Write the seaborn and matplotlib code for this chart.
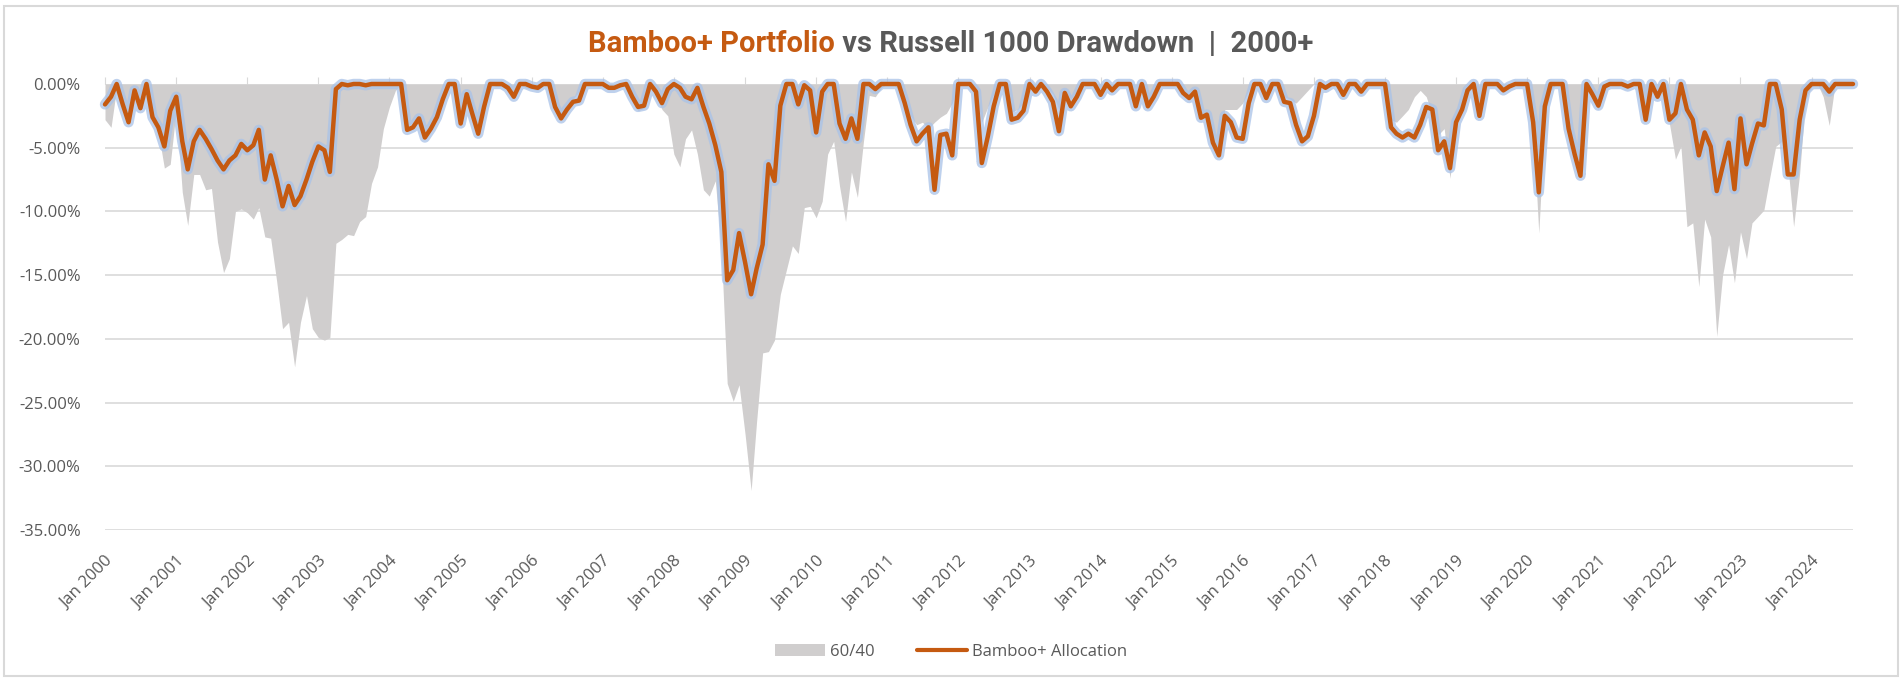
import numpy as np
import pandas as pd
import seaborn as sns
import matplotlib.pyplot as plt
import matplotlib.dates as mdates
import matplotlib.patheffects as pe
from matplotlib.patches import Patch, Rectangle
from matplotlib.lines import Line2D
from matplotlib.ticker import FuncFormatter

# monthly drawdowns in %, Jan 2000 .. Aug 2024 (one row per year)
bamboo = [
    -1.6, -1.0, 0, -1.6, -3.0, -0.5, -1.9, 0, -2.6, -3.4, -4.9, -2.1,
    -1.0, -4.5, -6.7, -4.5, -3.6, -4.3, -5.1, -6.0, -6.7, -6.0, -5.6, -4.7,
    -5.2, -4.8, -3.6, -7.5, -5.6, -7.5, -9.6, -8.0, -9.5, -8.8, -7.5, -6.1,
    -4.9, -5.2, -6.9, -0.4, 0, -0.1, 0, 0, -0.1, 0, 0, 0,
    0, 0, 0, -3.6, -3.4, -2.7, -4.2, -3.5, -2.6, -1.2, 0, 0,
    -3.1, -0.8, -2.3, -3.9, -1.8, 0, 0, 0, -0.3, -1.0, 0, 0,
    -0.2, -0.3, 0, 0, -1.8, -2.7, -2.0, -1.4, -1.3, 0, 0, 0,
    0, -0.3, -0.3, -0.1, 0, -1.0, -1.8, -1.7, 0, -0.6, -1.5, -0.4,
    0, -0.3, -1.0, -1.2, -0.3, -1.8, -3.1, -4.8, -6.9, -15.4, -14.6, -11.7,
    -14.0, -16.5, -14.5, -12.6, -6.3, -7.6, -1.7, 0, 0, -1.6, -0.1, -0.5,
    -3.8, -0.6, 0, 0, -3.1, -4.3, -2.7, -4.3, 0, 0, -0.4, 0,
    0, 0, 0, -1.5, -3.2, -4.5, -3.9, -3.4, -8.3, -4.0, -3.9, -5.6,
    0, 0, 0, -0.6, -6.2, -4.1, -1.75, 0, 0, -2.8, -2.65, -2.1,
    0, -0.6, 0, -0.6, -1.4, -3.7, -0.7, -1.75, -1.0, 0, 0, 0,
    -0.85, 0, -0.5, 0, 0, 0, -1.75, 0, -1.75, -1.0, 0, 0,
    0, 0, -0.7, -1.1, -0.6, -2.65, -2.4, -4.6, -5.6, -2.5, -3.0, -4.2,
    -4.3, -1.5, 0, 0, -1.1, 0, 0, -1.4, -1.5, -3.2, -4.5, -4.1,
    -2.5, 0, -0.3, 0, 0, -0.85, 0, 0, -0.6, 0, 0, 0,
    0, -3.4, -3.9, -4.2, -3.9, -4.2, -3.2, -1.8, -2.0, -5.2, -4.5, -6.6,
    -3.0, -2.0, -0.5, 0, -2.5, 0, 0, 0, -0.5, -0.2, 0, 0,
    0, -3.0, -8.5, -1.75, 0, 0, 0, -3.5, -5.5, -7.2, 0, -0.8,
    -1.7, -0.2, 0, 0, 0, -0.2, 0, 0, -2.8, 0, -1.0, 0,
    -2.8, -2.3, 0, -2.0, -2.8, -5.6, -3.8, -4.9, -8.4, -6.5, -4.6, -8.25,
    -2.7, -6.3, -4.7, -3.1, -3.25, 0, 0, -2.0, -7.1, -7.1, -2.8, -0.5,
    0, 0, 0, -0.6, 0, 0, 0, 0,
]

sixty_forty = [
    -2.8, -3.4, -0.3, -1.8, -3.2, -0.8, -2.0, -0.2, -2.8, -3.8, -6.6, -6.3,
    -2.0, -8.5, -11.1, -7.1, -7.1, -8.3, -8.2, -12.4, -14.8, -13.7, -10.0, -9.8,
    -10.1, -10.6, -9.7, -12.0, -12.1, -15.5, -19.2, -18.7, -22.2, -18.7, -16.6, -19.2,
    -19.9, -20.1, -19.9, -12.5, -12.2, -11.8, -11.9, -10.8, -10.4, -7.8, -6.5, -3.5,
    -1.8, -0.5, 0, -3.4, -3.0, -2.4, -4.0, -3.2, -2.3, -1.0, 0, -0.5,
    -2.8, -0.5, -2.1, -3.7, -1.5, 0, -0.2, -0.2, -0.5, -1.2, 0, -0.3,
    -0.4, -0.5, 0, -0.3, -1.6, -2.5, -1.8, -1.2, -0.6, 0, 0, 0,
    0, -0.4, -0.2, 0, -0.3, -1.4, -2.1, -1.9, 0, -0.8, -2.0, -2.5,
    -5.5, -6.5, -4.3, -3.6, -5.5, -8.3, -8.8, -7.6, -13.0, -23.5, -24.9, -23.6,
    -27.5, -31.9, -26.5, -21.1, -21.0, -20.1, -16.5, -14.6, -12.7, -13.3, -9.7, -9.6,
    -10.5, -9.2, -5.5, -4.5, -8.0, -10.8, -6.9, -8.9, -4.5, -0.9, -1.0, -0.3,
    0, 0, -0.5, -1.5, -2.5, -3.2, -3.0, -3.5, -3.0, -2.6, -2.3, -1.5,
    0, 0, 0, -0.8, -3.0, -1.8, -0.8, 0, -1.0, -2.2, -2.0, -1.5,
    0, -0.5, 0, -0.3, -0.8, -2.0, -0.5, -1.2, -0.6, 0, 0, 0,
    -0.8, 0, -0.5, 0, 0, 0, -1.5, 0, -1.5, -0.8, 0, 0,
    0, 0, -0.5, -1.0, -0.6, -2.4, -2.2, -4.3, -5.2, -2.0, -2.0, -2.0,
    -1.5, -0.5, 0, 0, -0.8, 0, -0.3, -1.0, -1.2, -1.5, -1.0, -0.5,
    0, 0, 0, 0, 0, -0.6, 0, 0, -0.4, 0, 0, 0,
    0, -2.8, -3.0, -2.5, -2.0, -1.0, -0.5, -1.0, -2.5, -4.0, -3.5, -7.4,
    -3.2, -2.2, -0.8, 0, -2.2, 0, 0, 0, -0.4, 0, 0, 0,
    0, -3.5, -11.7, -2.5, -0.5, 0, 0, -3.0, -5.0, -6.5, -0.5, -1.0,
    -2.0, -0.5, 0, 0, 0, 0, 0, 0, -2.5, 0, -1.0, 0,
    -3.1, -5.9, -4.9, -11.2, -10.9, -15.9, -10.6, -12.0, -19.8, -15.0, -12.6, -15.6,
    -11.6, -13.7, -10.9, -10.4, -9.9, -7.3, -4.9, -4.5, -6.3, -11.2, -7.0, -1.2,
    -0.2, 0, -1.0, -3.25, 0, 0, 0, 0,
]

dates = pd.date_range('2000-01-01', periods=len(bamboo), freq='MS')
df = pd.DataFrame({'date': dates,
                   'Bamboo+ Allocation': np.array(bamboo) / 100,
                   '60/40': np.array(sixty_forty) / 100})

ORANGE = '#C55A11'
GREY_FILL = '#D0CECE'
TXT = '#595959'
GRID = '#D9D9D9'

sns.set_style('white')
plt.rcParams['font.family'] = ['Open Sans', 'DejaVu Sans']

fig = plt.figure(figsize=(19.02, 6.79), dpi=100)
ax = fig.add_axes([105 / 1902, 1 - 530 / 679, (1853 - 105) / 1902, (530 - 84) / 679])

# 60/40 as grey area
ax.fill_between(df['date'], df['60/40'], 0, color=GREY_FILL, lw=0, zorder=2)

# Bamboo+ line with light blue glow
sns.lineplot(data=df, x='date', y='Bamboo+ Allocation', ax=ax, color=ORANGE,
             lw=3.2, zorder=4, clip_on=False,
             path_effects=[pe.Stroke(linewidth=7.5, foreground='#A9C2E8', alpha=0.75), pe.Normal()])


def pct(v, p):
    v = round(v * 100, 2)
    if v == 0:
        v = 0.0
    return '%.2f%%' % abs(v) if v == 0 else '%.2f%%' % v


ax.set_ylim(-0.35, 0)
ax.set_xlim(dates[0], dates[-1])
ax.set_yticks(np.arange(-0.35, 0.001, 0.05))
ax.yaxis.set_major_formatter(FuncFormatter(pct))
ax.grid(axis='y', color=GRID, lw=1.2, zorder=0)
ax.grid(axis='x', visible=False)
for s in ax.spines.values():
    s.set_visible(False)

ax.xaxis.set_major_locator(mdates.YearLocator())
ax.xaxis.set_major_formatter(mdates.DateFormatter('%b %Y'))
ax.tick_params(axis='x', bottom=False, top=True, labelbottom=True, labeltop=False,
               length=5, color=GRID, direction='out', labelsize=12, labelcolor=TXT, pad=12)
ax.tick_params(axis='y', left=False, labelsize=12, labelcolor=TXT, pad=14)
for lbl in ax.get_xticklabels():
    lbl.set_rotation(45)
    lbl.set_ha('right')
    lbl.set_va('top')
    lbl.set_rotation_mode('anchor')
ax.set_xlabel('')
ax.set_ylabel('')

# legend at the bottom
handles = [Patch(facecolor=GREY_FILL, edgecolor='none', label='60/40'),
           Line2D([0], [0], color=ORANGE, lw=3, label='Bamboo+ Allocation')]
fig.legend(handles=handles, loc='center', bbox_to_anchor=(0.5, 1 - 652 / 679), ncol=2,
           frameon=False, fontsize=12, labelcolor=TXT, handlelength=3.0,
           columnspacing=2.5, handletextpad=0.3)

# two-colour title, centred
fig.canvas.draw()
r = fig.canvas.get_renderer()
ty = 1 - 44 / 679
t1 = fig.text(0, ty, 'Bamboo+ Portfolio', color=ORANGE, fontsize=21, fontweight='bold',
              family=['Roboto', 'DejaVu Sans'], va='center')
t2 = fig.text(0, ty, ' vs Russell 1000 Drawdown  |  2000+', color=TXT, fontsize=21,
              fontweight='bold', family=['Roboto', 'DejaVu Sans'], va='center')
w1 = t1.get_window_extent(r).width / fig.bbox.width
w2 = t2.get_window_extent(r).width / fig.bbox.width
x0 = 0.5 - (w1 + w2) / 2
t1.set_x(x0)
t2.set_x(x0 + w1)

# light frame around the chart
fig.patches.append(Rectangle((4 / 1902, 3 / 679), 1894 / 1902, 670 / 679,
                             transform=fig.transFigure, fill=False, edgecolor=GRID, lw=1.5))

fig.savefig('out.png', dpi=100)
